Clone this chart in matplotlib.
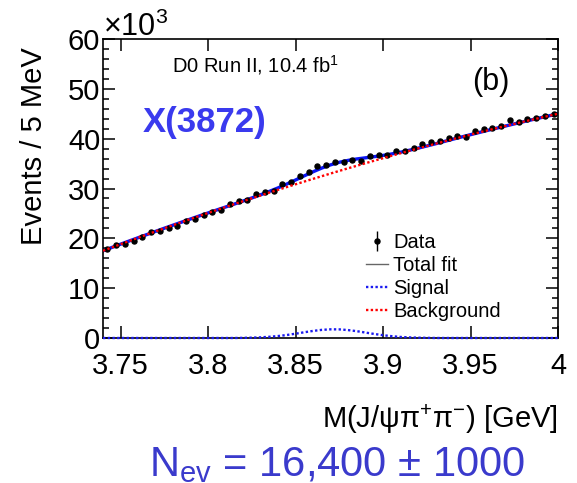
import matplotlib
matplotlib.use('Agg')
import matplotlib.pyplot as plt
from matplotlib.lines import Line2D
from matplotlib.ticker import MultipleLocator, FuncFormatter
import numpy as np

plt.rcParams['font.family'] = ['Liberation Sans', 'DejaVu Sans']
plt.rcParams['mathtext.fontset'] = 'custom'
plt.rcParams['mathtext.rm'] = 'Liberation Sans'
plt.rcParams['mathtext.it'] = 'Liberation Sans:italic'
plt.rcParams['mathtext.bf'] = 'Liberation Sans:bold'

# 5 MeV bins between 3.74 and 4.00 GeV
bin_centers = np.arange(3.7425, 4.0, 0.005)
events_k = [17.8, 18.7, 18.9, 19.5, 20.3, 21.3, 21.5, 22.0, 22.5, 23.5,
            23.9, 24.6, 25.2, 25.7, 26.8, 27.4, 27.6, 28.8, 29.3, 29.4,
            30.9, 31.4, 32.6, 33.4, 34.5, 34.8, 35.4, 35.3, 35.7, 35.5,
            36.6, 36.7, 36.7, 37.5, 37.6, 38.1, 38.9, 39.3, 39.6, 40.2,
            40.5, 40.3, 41.5, 41.9, 42.1, 42.5, 43.7, 43.4, 43.9, 44.2,
            44.5, 45.0]

# fit components (thousands of events per 5 MeV)
fit_mass = np.arange(3.74, 4.0001, 0.005)
bkg_k = [17.50, 18.16, 18.82, 19.47, 20.11, 20.75, 21.39, 22.02, 22.64, 23.26,
         23.88, 24.49, 25.09, 25.69, 26.28, 26.87, 27.45, 28.03, 28.60, 29.17,
         29.73, 30.29, 30.84, 31.39, 31.93, 32.47, 33.00, 33.53, 34.05, 34.56,
         35.07, 35.58, 36.08, 36.58, 37.07, 37.55, 38.03, 38.50, 38.97, 39.44,
         39.90, 40.35, 40.80, 41.24, 41.68, 42.11, 42.54, 42.96, 43.38, 43.79,
         44.20, 44.60, 45.00]
sig_k = [0.0] * 16 + [0.03, 0.07, 0.13, 0.24, 0.39, 0.60, 0.86, 1.15, 1.42, 1.63,
                      1.74, 1.73, 1.59, 1.37, 1.09, 0.81, 0.56, 0.36, 0.21, 0.12,
                      0.06, 0.03] + [0.0] * 15

x_ticks = [3.75, 3.8, 3.85, 3.9, 3.95, 4.0]

W, H = 577, 483


def px(x, y):
    return x / W, 1 - y / H


fig = plt.figure(figsize=(W / 100, H / 100), dpi=100)
ax = fig.add_axes([103 / W, (H - 338) / H, 455 / W, 299 / H])

events = np.array(events_k)
err = np.sqrt(events * 1000) / 1000
total_k = np.array(bkg_k) + np.array(sig_k)

data = ax.errorbar(bin_centers, events, yerr=err, fmt='o', color='black',
                   markersize=3.6, elinewidth=1, capsize=0, zorder=3)
ax.plot(fit_mass, total_k, color='#0a14f5', lw=2.4, zorder=2)
ax.plot(fit_mass, bkg_k, color='red', lw=1.7, ls=(0, (1, 1)), zorder=4)
ax.plot(fit_mass, sig_k, color='#1a1af0', lw=1.7, ls=(0, (1, 1)), zorder=5,
        clip_on=False)

ax.set_xlim(3.74, 4.0)
ax.set_ylim(0, 60)
ax.set_xticks(x_ticks)
ax.xaxis.set_major_formatter(FuncFormatter(lambda v, p: '%g' % round(v, 3)))
ax.yaxis.set_major_locator(MultipleLocator(10))
ax.yaxis.set_minor_locator(MultipleLocator(2))
ax.tick_params(which='both', direction='in', top=True, right=True, width=1.1)
ax.tick_params(which='major', length=8.5)
ax.tick_params(which='minor', length=4.3)
ax.tick_params(axis='x', labelsize=21, pad=10)
ax.tick_params(axis='y', labelsize=21, pad=2)
for s in ax.spines.values():
    s.set_linewidth(1.2)

fig.text(*px(103, 36), r'×10$^{3}$', fontsize=22, va='baseline', ha='left')
fig.text(*px(34, 146), 'Events / 5 MeV', fontsize=21, rotation=90,
         ha='center', va='center')
fig.text(*px(558, 428), r'M(J/ψπ$^{+}$π$^{-}$) [GeV]', fontsize=21,
         ha='right', va='baseline')
fig.text(*px(172, 72), r'D0 Run II, 10.4 fb$^{1}$', fontsize=14.5,
         ha='left', va='baseline')
fig.text(*px(472, 90), '(b)', fontsize=22, ha='left', va='baseline')
fig.text(*px(143, 132), 'X(3872)', fontsize=25, fontweight='bold',
         color='#3a3aee', ha='left', va='baseline')
fig.text(*px(149, 476), r'N$_{\rm ev}$ = 16,400 ± 1000', fontsize=30,
         color='#3a3acc', ha='left', va='baseline')

handles = [data,
           Line2D([], [], color='#666666', lw=1),
           Line2D([], [], color='#1a1af0', lw=1.7, ls=(0, (1, 1))),
           Line2D([], [], color='red', lw=1.7, ls=(0, (1, 1)))]
labels = ['Data', 'Total fit', 'Signal', 'Background']
ax.legend(handles, labels, loc='upper left',
          bbox_to_anchor=px(366, 233), bbox_transform=fig.transFigure,
          frameon=False, fontsize=14.5, handlelength=1.1, handletextpad=0.25,
          labelspacing=0.2, borderpad=0, borderaxespad=0)

fig.savefig('out.png', dpi=100)
